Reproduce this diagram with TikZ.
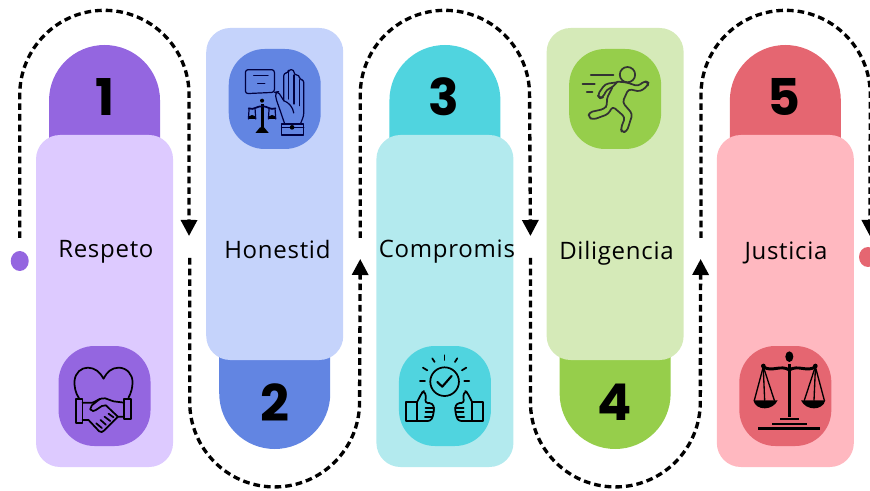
\documentclass[tikz,border=0pt]{standalone}
\usepackage{fontspec}
\setmainfont{Open Sans}[LetterSpace=3]
\newfontfamily\numfont{Poppins}
\usetikzlibrary{positioning,shapes.geometric,arrows.meta,backgrounds}
\definecolor{cardPurple}{HTML}{DDCAFF}
\definecolor{tabPurple}{HTML}{9466E0}
\definecolor{cardBlue}{HTML}{C5D3FB}
\definecolor{tabBlue}{HTML}{6285E2}
\definecolor{cardCyan}{HTML}{B3EAEE}
\definecolor{tabCyan}{HTML}{50D4DF}
\definecolor{cardGreen}{HTML}{D5EAB8}
\definecolor{tabGreen}{HTML}{96CE4B}
\definecolor{cardPink}{HTML}{FFB8C0}
\definecolor{tabPink}{HTML}{E56671}
\tikzset{
  cardbox/.style={rectangle,rounded corners=18pt,minimum width=102.75pt,minimum height=249pt,inner sep=0pt,outer sep=0pt},
  tabbox/.style={rectangle,rounded corners=41.6pt,minimum width=83.25pt,minimum height=135pt,inner sep=0pt,outer sep=0pt},
  iconbox/.style={rectangle,rounded corners=27pt,minimum width=69pt,minimum height=75pt,inner sep=0pt,outer sep=0pt},
  cardtext/.style={inner sep=0pt,font=\fontsize{18}{21}\selectfont},
  numtext/.style={inner sep=0pt,font=\numfont\bfseries\fontsize{38}{40}\selectfont},
  dotmark/.style={ellipse,minimum width=13.5pt,minimum height=15pt,inner sep=0pt},
  flowline/.style={line width=2.5pt,dash pattern=on 5pt off 3pt,-{Triangle[width=12pt,length=12pt]}},
  iconscope/.style={x=.25pt,y=-.25pt,line width=1.3pt,line join=round,line cap=round},
}
\newcommand{\newCard}[4]{\node[cardbox,fill=#3](#1)[#4]{};\node[cardtext](#1txt) at ([#2]#1.center){\strut\cardname};}
\newcommand{\newTab}[4]{\begin{pgfonlayer}{background}\node[tabbox,fill=#3](#1)[#4]{};\end{pgfonlayer}}
\newcommand{\newIcon}[3]{\node[iconbox,fill=#2](#1)[#3]{};}
\newcommand{\newNum}[3]{\node[numtext](#1) at (#3){#2};}
\newcommand{\newLoopUp}[2]{\draw[flowline] (#1) -- (#1 |- 0,-71.25pt) arc[start angle=180,end angle=0,radius=63.5pt] -- (#2);}
\newcommand{\newLoopDown}[2]{\draw[flowline] (#1) -- (#1 |- 0,-301.5pt) arc[start angle=180,end angle=360,radius=63.7pt] -- (#2);}
\begin{document}
\begin{tikzpicture}[node distance=24.9pt]
    \useasboundingbox (0,0) rectangle (652.5pt,-368.25pt);
    \def\cardname{Respeto}
    \newCard{card1}{xshift=1pt,yshift=36.75pt}{cardPurple}{at={(78.4pt,-225.75pt)}}
    \def\cardname{Honestid}
    \newCard{card2}{xshift=2pt,yshift=-44pt}{cardBlue}{right=of card1,yshift=80.25pt}
    \def\cardname{Compromis}
    \newCard{card3}{xshift=1.5pt,yshift=36.75pt}{cardCyan}{right=of card2,yshift=-80.25pt}
    \def\cardname{Diligencia}
    \newCard{card4}{xshift=1pt,yshift=-45pt}{cardGreen}{right=of card3,yshift=80.25pt}
    \def\cardname{Justicia}
    \newCard{card5}{xshift=.5pt,yshift=35.3pt}{cardPink}{right=of card4,yshift=-80.25pt}
    \newTab{tab1}{}{tabPurple}{above=-67.5pt of card1.north}
    \newTab{tab2}{}{tabBlue}{below=-68.25pt of card2.south}
    \newTab{tab3}{}{tabCyan}{above=-67.5pt of card3.north}
    \newTab{tab4}{}{tabGreen}{below=-68.25pt of card4.south}
    \newTab{tab5}{}{tabPink}{above=-67.5pt of card5.north}
    \newNum{num1}{1}{[yshift=-39pt]tab1.north}
    \newNum{num2}{2}{[yshift=35pt]tab2.south}
    \newNum{num3}{3}{[xshift=-.75pt,yshift=-39pt]tab3.north}
    \newNum{num4}{4}{[yshift=35pt]tab4.south}
    \newNum{num5}{5}{[xshift=-.75pt,yshift=-39pt]tab5.north}
    \newIcon{icon1}{tabPurple}{above=15.75pt of card1.south}
    \newIcon{icon2}{tabBlue}{below=15.75pt of card2.north}
    \newIcon{icon3}{tabCyan}{above=15.75pt of card3.south}
    \newIcon{icon4}{tabGreen}{below=15.75pt of card4.north}
    \newIcon{icon5}{tabPink}{above=15.75pt of card5.south}
    \node[dotmark,fill=tabPurple](dotA) at (14.8pt,-195.75pt){};
    \node[dotmark,fill=tabPink](dotB) at (651pt,-192.75pt){};
    \coordinate (loop1a) at ([yshift=17.25pt]dotA.center);
    \coordinate (loop1b) at ([xshift=12pt,yshift=48.75pt]card1.east);
    \coordinate (loop2a) at ([xshift=12.5pt,yshift=32.25pt]card1.east);
    \coordinate (loop2b) at ([xshift=12.75pt,yshift=-48.75pt]card2.east);
    \coordinate (loop3a) at ([xshift=12.75pt,yshift=-33pt]card2.east);
    \coordinate (loop3b) at ([xshift=12.75pt,yshift=48.75pt]card3.east);
    \coordinate (loop4a) at ([xshift=12.75pt,yshift=32.25pt]card3.east);
    \coordinate (loop4b) at ([xshift=12.75pt,yshift=-48.75pt]card4.east);
    \coordinate (loop5a) at ([xshift=13pt,yshift=-33pt]card4.east);
    \coordinate (loop5b) at ([xshift=12pt,yshift=48.75pt]card5.east);
    \newLoopUp{loop1a}{loop1b}
    \newLoopDown{loop2a}{loop2b}
    \newLoopUp{loop3a}{loop3b}
    \newLoopDown{loop4a}{loop4b}
    \newLoopUp{loop5a}{loop5b}
    % heart and handshake
    \begin{scope}[shift={(icon1.north west)},iconscope]
      \draw (62,158) .. controls (50,140) and (47,120) .. (48,105) .. controls (50,80) and (68,65) .. (88,65) .. controls (108,65) and (125,78) .. (135,98) .. controls (145,78) and (160,65) .. (180,65) .. controls (205,65) and (222,85) .. (222,108) .. controls (222,125) and (218,140) .. (210,155);
      \draw (52,160) rectangle (72,230);
      \draw (197,158) rectangle (217,220);
      \draw (72,170) -- (102,170) .. controls (115,165) and (125,155) .. (140,157) -- (165,166) -- (197,170);
      \draw (72,222) -- (90,222) -- (122,256) .. controls (128,260) and (132,258) .. (136,254) -- (178,212) -- (197,212);
      \draw (125,158) -- (100,178) -- (95,190) .. controls (100,197) and (108,196) .. (112,192) -- (130,180) -- (142,178) -- (178,212);
      \draw (113,232) -- (130,246);
      \draw (126,222) -- (142,236);
      \draw (138,212) -- (155,225);
      \draw (150,203) -- (165,214);
    \end{scope}
    % speech bubble, scale and raised hand
    \begin{scope}[shift={(icon2.north west)},iconscope,draw=black!75!blue,line width=.9pt]
      \draw[rounded corners=2pt] (50,62) -- (137,62) -- (137,130) -- (50,134) -- cycle;
      \draw (75,80) -- (118,80);
      \draw (87,103) -- (108,103);
      \draw (137,130) -- (150,128);
      \draw[rounded corners=2pt] (165,155) -- (165,72) -- (179,72) -- (179,62) -- (196,62) -- (196,78) -- (212,78) -- (212,92) -- (225,92) -- (225,200) -- (215,225);
      \draw (179,72) -- (179,150);
      \draw (196,78) -- (196,165);
      \draw (212,92) -- (212,170);
      \draw[rounded corners=2pt] (165,155) -- (148,128) -- (140,132) -- (142,150) -- (152,178) -- (168,225);
      \draw (165,155) .. controls (180,160) and (193,175) .. (195,192);
      \draw (158,225) rectangle (225,258);
      \draw (158,235) -- (225,235);
      \fill (190,235) circle[radius=7];
      \fill (100,155) circle[radius=6];
      \fill (96,165) rectangle (106,240);
      \fill (80,252) -- (120,252) -- (106,235) -- (94,235) -- cycle;
      \draw[line width=1.3pt] (60,178) .. controls (75,185) and (85,170) .. (100,172) .. controls (115,170) and (125,185) .. (140,178);
      \foreach \pan in {70,130}{
        \fill (\pan-12,210) arc[start angle=180,end angle=360,radius=12];
        \draw (\pan-9,180) -- (\pan-11,210);
        \draw (\pan+9,180) -- (\pan+11,210);
      }
    \end{scope}
    % check mark and two thumbs
    \begin{scope}[shift={(icon3.north west)},iconscope]
      \draw (137,107) circle[radius=43];
      \draw[line width=1.6pt] (115,108) -- (130,122) -- (158,90);
      \draw (137,28) -- (137,42);
      \draw (100,37) -- (107,48);
      \draw (175,37) -- (168,48);
      \draw (72,65) -- (85,73);
      \draw (202,65) -- (189,73);
      \draw (63,106) -- (78,106);
      \draw (196,106) -- (211,106);
      \foreach \side in {1,-1}{
        \begin{scope}[shift={(137,0)},xscale=\side]
          \draw (-115,167) rectangle (-82,225);
          \draw[rounded corners=2pt] (-82,225) -- (-42,225) -- (-35,212) -- (-33,198) -- (-31,185) -- (-37,172) -- (-59,170) -- (-55,150) -- (-62,135) -- (-68,140) -- (-82,167);
          \draw (-57,185) -- (-31,185);
          \draw (-57,198) -- (-33,198);
          \draw (-59,212) -- (-37,212);
        \end{scope}
      }
    \end{scope}
    % runner
    \begin{scope}[shift={(icon4.north west)},iconscope,draw=black!80]
      \draw (175,77) circle[radius=23];
      \draw (65,77) -- (133,77);
      \draw (40,105) -- (77,105);
      \draw (53,130) -- (70,130);
      \draw[rounded corners=2.5pt] (145,98) -- (172,100) -- (207,112) -- (225,96) -- (238,100) -- (236,110) -- (213,128) -- (178,120) -- (160,160) -- (190,195) -- (173,248) -- (158,250) -- (155,238) -- (168,205) -- (130,172) -- (118,195) -- (72,212) -- (58,205) -- (60,190) -- (105,180) -- (115,168) -- (112,150) -- (130,115);
      \draw[rounded corners=2.5pt] (143,100) -- (108,105) -- (85,138) -- (92,148) -- (102,145) -- (112,122) -- (130,115) -- (145,98);
    \end{scope}
    % balance
    \begin{scope}[shift={(icon5.north west)},iconscope]
      \fill (145,55) rectangle (156,212);
      \fill (150,32) ellipse[x radius=12,y radius=16];
      \draw[line width=2.2pt] (72,62) .. controls (95,80) and (125,55) .. (150,72) .. controls (175,55) and (205,80) .. (228,62);
      \foreach \side in {1,-1}{
        \begin{scope}[shift={(150,0)},xscale=\side]
          \fill (-78,60) circle[radius=7];
          \draw[line width=1pt] (-78,62) -- (-105,163);
          \draw[line width=1pt] (-78,62) -- (-45,163);
          \draw[line width=1pt] (-78,70) -- (-74,163);
          \fill (-108,163) .. controls (-100,195) and (-50,195) .. (-35,163) -- cycle;
        \end{scope}
      }
      \fill (122,216) rectangle (178,222);
      \fill (97,230) rectangle (203,237);
      \fill (57,244) rectangle (242,252);
    \end{scope}
\end{tikzpicture}
\end{document}
